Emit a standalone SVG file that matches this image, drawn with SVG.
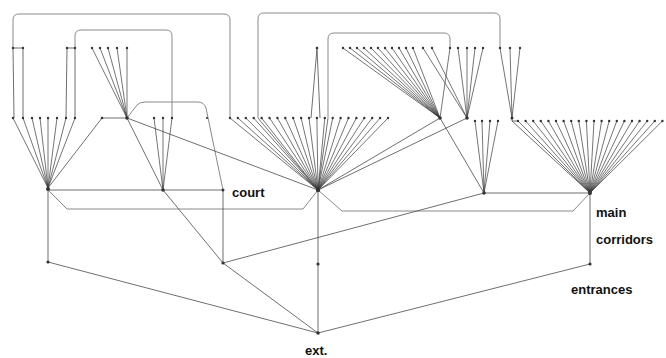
<svg xmlns="http://www.w3.org/2000/svg" width="666" height="358" viewBox="0 0 666 358">
<style>
.e{fill:none;stroke:#4a4a4a;stroke-width:0.8}
.f{fill:none;stroke:#3a3a3a;stroke-width:0.7}
.l{fill:none;stroke:#8a8a8a;stroke-width:1}
.n{fill:#333}
.t{font-family:"Liberation Sans",Arial,sans-serif;font-weight:bold;font-size:13px;fill:#111}
</style>
<rect width="666" height="358" fill="#fff"/>
<g id="connectors">
<!-- loops -->
<path class="l" d="M13,48 V20 Q13,14 19,14 H224 Q230,14 230,20 V118"/>
<path class="l" d="M75,48 V36 Q75,30 81,30 H166 Q172,30 172,36 V118"/>
<path class="l" d="M258,118 V19 Q258,13 264,13 H494 Q500,13 500,19 V48"/>
<path class="l" d="M328,118 V39 Q328,33 334,33 H444 Q450,33 450,39 V48"/>
<path class="l" d="M127,118 L137,105 Q140,102 145,102 H198 Q204,102 206,108 L223,190"/>
<path class="l" d="M48,190 L67,209 H303 L318,190"/>
<path class="l" d="M318,190 L342,211 H573 L590,193"/>
<!-- left top pairs -->
<path class="e" d="M13,48 H23 M13,48 L14,118 M23,48 L23,118 M67,48 H75 M67,48 L66,118 M75,48 L75,118"/>
<!-- left fan -->
<path class="f" d="M13,118 L48,188 M23,118 L48,188 M32,118 L48,188 M40,118 L48,188 M48,118 L48,188 M57,118 L48,188 M66,118 L48,188 M75,118 L48,188"/>
<!-- middle-left upper fan -->
<path class="f" d="M92,48 L127,118 M100,48 L127,118 M108,48 L127,118 M117,48 L127,118 M127,48 L127,118"/>
<path class="e" d="M102,118 H127 M102,118 L48,188 M127,118 L163,190 M127,118 L318,190"/>
<!-- small fan -->
<path class="f" d="M154,118 L163,190 M163,118 L163,190 M172,118 L163,190"/>
<!-- central fan -->
<path class="f" d="M230,118 L318,190 M237.9,118 L318,190 M245.8,118 L318,190 M253.7,118 L318,190 M261.6,118 L318,190 M269.5,118 L318,190 M277.4,118 L318,190 M285.3,118 L318,190 M293.2,118 L318,190 M301.1,118 L318,190 M309,118 L318,190 M316.9,118 L318,190 M324.8,118 L318,190 M332.7,118 L318,190 M340.6,118 L318,190 M348.5,118 L318,190 M356.4,118 L318,190 M364.3,118 L318,190 M372.2,118 L318,190 M380.1,118 L318,190 M388,118 L318,190 M258,118 L318,190 M328,118 L318,190"/>
<path class="e" d="M317,48 L311,118 M317,48 L320,118"/>
<!-- upper right fans -->
<path class="f" d="M343,48 L440,118 M350,48 L440,118 M357,48 L440,118 M364,48 L440,118 M371,48 L440,118 M378,48 L440,118 M385,48 L440,118 M392,48 L440,118 M399,48 L440,118 M406,48 L440,118 M413,48 L440,118 M450,48 L440,118"/>
<path class="f" d="M423,48 L467,118 M432,48 L467,118 M458,48 L467,118 M467,48 L467,118 M475,48 L467,118 M483,48 L467,118"/>
<path class="e" d="M440,118 L318,190 M467,118 L318,190 M440,118 L484,193"/>
<!-- small fan above 484 -->
<path class="f" d="M475,121 L484,193 M482,121 L484,193 M490,121 L484,193 M498,121 L484,193"/>
<!-- right small top fan -->
<path class="f" d="M500,48 L512,118 M510,48 L512,118 M520,48 L512,118"/>
<path class="e" d="M512,118 V121 H518 M512,121 L590,193"/>
<!-- right fan -->
<path class="f" d="M518,121 L590,193 M525.6,121 L590,193 M533.2,121 L590,193 M540.8,121 L590,193 M548.4,121 L590,193 M556,121 L590,193 M563.6,121 L590,193 M571.2,121 L590,193 M578.8,121 L590,193 M586.4,121 L590,193 M594,121 L590,193 M601.6,121 L590,193 M609.2,121 L590,193 M616.8,121 L590,193 M624.4,121 L590,193 M632,121 L590,193 M639.6,121 L590,193 M647.2,121 L590,193 M654.8,121 L590,193 M662.4,121 L590,193"/>
<!-- main corridors and entrances -->
<path class="e" d="M48,190 H223 M223,190 V263 M163,190 L223,263 M223,263 L484,193 M484,193 H590"/>
<path class="e" d="M48,190 V262 M318,190 V333 M590,193 V264 M48,262 L318,333 M223,263 L318,333 M590,264 L318,333"/>
</g>
<g id="node-ext"><circle class="n" cx="318" cy="333" r="1.8"/></g>
<g id="node-ent1"><circle class="n" cx="48" cy="262" r="1.6"/></g>
<g id="node-ent2"><circle class="n" cx="223" cy="263" r="1.6"/></g>
<g id="node-ent3"><circle class="n" cx="318" cy="264" r="1.6"/></g>
<g id="node-ent4"><circle class="n" cx="590" cy="264" r="1.6"/></g>
<g id="node-c1"><circle class="n" cx="48" cy="189" r="2"/></g>
<g id="node-c2"><circle class="n" cx="163" cy="190" r="1.8"/></g>
<g id="node-court"><circle class="n" cx="223" cy="190" r="1.5"/></g>
<g id="node-c3"><circle class="n" cx="318" cy="190" r="2.2"/></g>
<g id="node-c4"><circle class="n" cx="484" cy="193" r="1.8"/></g>
<g id="node-c5"><circle class="n" cx="590" cy="193" r="2"/></g>
<g id="nodes-level3" class="n">
<circle cx="13" cy="118" r="1.2"/><circle cx="23" cy="118" r="1.2"/><circle cx="32" cy="118" r="1.2"/><circle cx="40" cy="118" r="1.2"/><circle cx="48" cy="118" r="1.2"/><circle cx="57" cy="118" r="1.2"/><circle cx="66" cy="118" r="1.2"/><circle cx="75" cy="118" r="1.2"/>
<circle cx="102" cy="118" r="1.3"/><circle cx="127" cy="118" r="1.8"/><circle cx="154" cy="118" r="1.2"/><circle cx="163" cy="118" r="1.2"/><circle cx="172" cy="118" r="1.2"/><circle cx="207" cy="118" r="1.1"/>
<circle cx="230" cy="118" r="1.2"/><circle cx="237.9" cy="118" r="1.2"/><circle cx="245.8" cy="118" r="1.2"/><circle cx="253.7" cy="118" r="1.2"/><circle cx="261.6" cy="118" r="1.2"/><circle cx="269.5" cy="118" r="1.2"/><circle cx="277.4" cy="118" r="1.2"/><circle cx="285.3" cy="118" r="1.2"/><circle cx="293.2" cy="118" r="1.2"/><circle cx="301.1" cy="118" r="1.2"/><circle cx="309" cy="118" r="1.2"/><circle cx="316.9" cy="118" r="1.2"/><circle cx="324.8" cy="118" r="1.2"/><circle cx="332.7" cy="118" r="1.2"/><circle cx="340.6" cy="118" r="1.2"/><circle cx="348.5" cy="118" r="1.2"/><circle cx="356.4" cy="118" r="1.2"/><circle cx="364.3" cy="118" r="1.2"/><circle cx="372.2" cy="118" r="1.2"/><circle cx="380.1" cy="118" r="1.2"/><circle cx="388" cy="118" r="1.2"/>
<circle cx="440" cy="118" r="1.8"/><circle cx="467" cy="118" r="1.8"/><circle cx="512" cy="118" r="1.5"/>
<circle cx="475" cy="121" r="1.2"/><circle cx="482" cy="121" r="1.2"/><circle cx="490" cy="121" r="1.2"/><circle cx="498" cy="121" r="1.2"/>
<circle cx="518" cy="121" r="1.2"/><circle cx="525.6" cy="121" r="1.2"/><circle cx="533.2" cy="121" r="1.2"/><circle cx="540.8" cy="121" r="1.2"/><circle cx="548.4" cy="121" r="1.2"/><circle cx="556" cy="121" r="1.2"/><circle cx="563.6" cy="121" r="1.2"/><circle cx="571.2" cy="121" r="1.2"/><circle cx="578.8" cy="121" r="1.2"/><circle cx="586.4" cy="121" r="1.2"/><circle cx="594" cy="121" r="1.2"/><circle cx="601.6" cy="121" r="1.2"/><circle cx="609.2" cy="121" r="1.2"/><circle cx="616.8" cy="121" r="1.2"/><circle cx="624.4" cy="121" r="1.2"/><circle cx="632" cy="121" r="1.2"/><circle cx="639.6" cy="121" r="1.2"/><circle cx="647.2" cy="121" r="1.2"/><circle cx="654.8" cy="121" r="1.2"/><circle cx="662.4" cy="121" r="1.2"/>
</g>
<g id="nodes-level4" class="n">
<circle cx="13" cy="48" r="1.2"/><circle cx="23" cy="48" r="1.2"/><circle cx="67" cy="48" r="1.2"/><circle cx="75" cy="48" r="1.2"/>
<circle cx="92" cy="48" r="1.2"/><circle cx="100" cy="48" r="1.2"/><circle cx="108" cy="48" r="1.2"/><circle cx="117" cy="48" r="1.2"/><circle cx="127" cy="48" r="1.2"/>
<circle cx="317" cy="48" r="1.3"/>
<circle cx="343" cy="48" r="1.2"/><circle cx="350" cy="48" r="1.2"/><circle cx="357" cy="48" r="1.2"/><circle cx="364" cy="48" r="1.2"/><circle cx="371" cy="48" r="1.2"/><circle cx="378" cy="48" r="1.2"/><circle cx="385" cy="48" r="1.2"/><circle cx="392" cy="48" r="1.2"/><circle cx="399" cy="48" r="1.2"/><circle cx="406" cy="48" r="1.2"/><circle cx="413" cy="48" r="1.2"/>
<circle cx="423" cy="48" r="1.2"/><circle cx="432" cy="48" r="1.2"/><circle cx="450" cy="48" r="1.2"/><circle cx="458" cy="48" r="1.2"/><circle cx="467" cy="48" r="1.2"/><circle cx="475" cy="48" r="1.2"/><circle cx="483" cy="48" r="1.2"/>
<circle cx="500" cy="48" r="1.2"/><circle cx="510" cy="48" r="1.2"/><circle cx="520" cy="48" r="1.2"/>
</g>
<g id="labels">
<text class="t" x="232" y="197">court</text>
<text class="t" x="596" y="217">main</text>
<text class="t" x="596" y="244">corridors</text>
<text class="t" x="571" y="294">entrances</text>
<text class="t" x="305" y="355">ext.</text>
</g>
</svg>
